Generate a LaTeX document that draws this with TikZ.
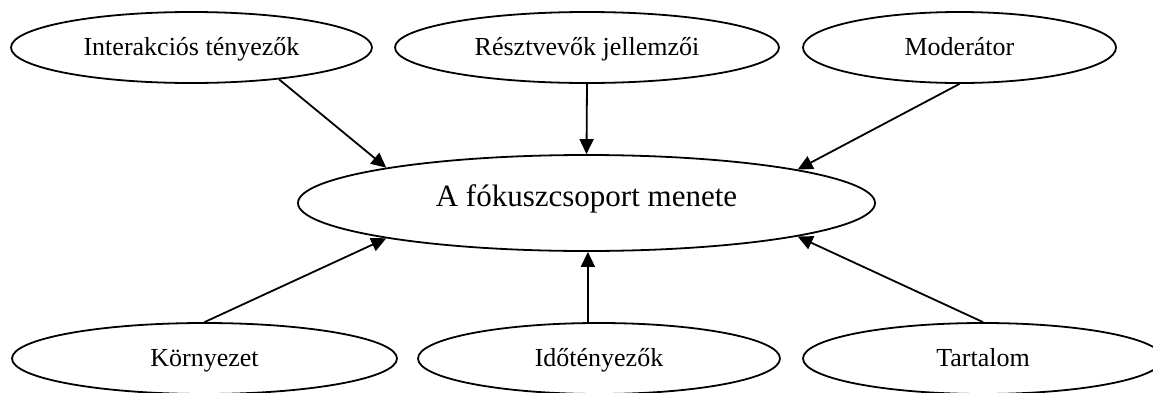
\documentclass[tikz,border=0pt]{standalone}
\usepackage{fontspec}
\setmainfont{Liberation Serif}
\usetikzlibrary{shapes.geometric,arrows.meta}
\tikzset{
  factor/.style={draw,ellipse,line width=0.9pt,inner sep=0pt,minimum height=35.5pt,
    font=\fontsize{13}{15}\selectfont,text height=8.6pt,text depth=0.6pt},
  mainstep/.style={factor,minimum width=288.5pt,minimum height=48pt,
    font=\fontsize{15.5}{18}\selectfont,text height=10.3pt,text depth=6.9pt},
  flow/.style={line width=0.9pt,->},
}
\begin{document}
\begin{tikzpicture}[>={Triangle[length=7.5pt,width=7pt]},x=0.5pt,y=-0.5pt]
\useasboundingbox (0,0) rectangle (1153,392);
%%
\node (menet) at (586.5,203) [mainstep] {A fókuszcsoport menete};
%
  \node (inter) at (191.5,47.5) [factor,minimum width=180.5pt] {Interakciós tényezők};
  \node (resz) at (587,47.5) [factor,minimum width=192pt] {Résztvevők jellemzői};
  \node (moder) at (959.5,47.5) [factor,minimum width=156.5pt] {Moderátor};
  \node (korny) at (204.5,358.5) [factor,minimum width=192.5pt] {Környezet};
  \node (ido) at (599,358.5) [factor,minimum width=181pt] {Időtényezők};
  \node (tart) at (983,358.5) [factor,minimum width=180pt] {Tartalom};
%
  \draw [flow] (inter.-20.7) -- (menet.170.9);
  \draw [flow] (resz.south) -- (menet.north);
  \draw [flow] (moder.south) -- (menet.9.1);
  \draw [flow] (korny.north) -- (menet.-170.9);
  \draw [flow] (ido.107) -- (ido.107 |- menet.south);
  \draw [flow] (tart.north) -- (menet.-9.1);
%
\end{tikzpicture}
\end{document}
